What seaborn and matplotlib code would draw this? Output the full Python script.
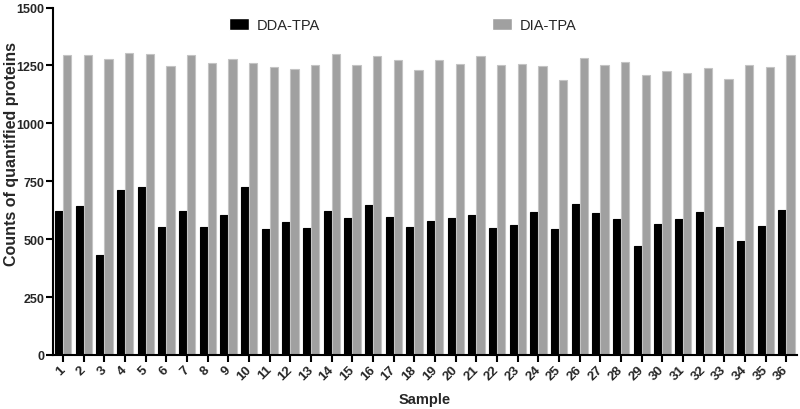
import numpy as np
import pandas as pd
import matplotlib
matplotlib.use("Agg")
import matplotlib.pyplot as plt
import seaborn as sns

samples = [str(i) for i in range(1, 37)]
dda_tpa = [620, 645, 432, 711, 725, 552, 623, 552, 605, 725, 543, 572, 547, 623, 590, 647, 596, 552,
           578, 592, 603, 547, 562, 616, 543, 653, 612, 589, 472, 565, 586, 616, 553, 491, 556, 625]
dia_tpa = [1295, 1294, 1276, 1304, 1301, 1247, 1295, 1262, 1280, 1262, 1244, 1234, 1250, 1299, 1254, 1291, 1273, 1230,
           1273, 1257, 1289, 1251, 1257, 1249, 1188, 1282, 1253, 1264, 1211, 1227, 1219, 1241, 1192, 1250, 1243, 1295]
series_names = ["DDA-TPA", "DIA-TPA"]
y_ticks = [0, 250, 500, 750, 1000, 1250, 1500]

df = pd.DataFrame({
    "Sample": samples * 2,
    "Count": dda_tpa + dia_tpa,
    "Method": [series_names[0]] * len(samples) + [series_names[1]] * len(samples),
})

sns.set_theme(style="white")
plt.rcParams["font.family"] = ["Liberation Sans", "DejaVu Sans"]

fig = plt.figure(figsize=(8, 4.1), dpi=100)
ax = fig.add_axes([0.066, 0.132, 0.93, 0.847])

sns.barplot(data=df, x="Sample", y="Count", hue="Method", order=samples,
            hue_order=series_names, palette=["#000000", "#a0a0a0"],
            width=0.8, errorbar=None, ax=ax, saturation=1)

for bar_container, ec in zip(ax.containers, ["#000000", "#c4c4c4"]):
    for p in bar_container:
        p.set_edgecolor(ec)
        p.set_linewidth(0.8)

ax.set_xlim(-0.5, 35.5)
ax.set_ylim(0, 1500)
ax.set_yticks(y_ticks)
ax.set_yticklabels([str(t) for t in y_ticks], fontsize=9, fontweight="bold")
ax.set_xticks(range(len(samples)))
ax.set_xticklabels(samples, rotation=45, ha="right", va="center", rotation_mode="anchor",
                   fontsize=9.5, fontweight="bold")
ax.set_xlabel("Sample", fontsize=10.5, fontweight="bold")
ax.set_ylabel("Counts of quantified proteins", fontsize=11.5, fontweight="bold")
ax.xaxis.set_label_coords(0.5, -0.108)
ax.yaxis.set_label_coords(-0.046, 0.58)

sns.despine(ax=ax)
for s in ["left", "bottom"]:
    ax.spines[s].set_color("black")
    ax.spines[s].set_linewidth(1.5)
ax.tick_params(axis="both", which="both", direction="out", length=5, width=1.5,
               color="black", bottom=True, left=True)
ax.tick_params(axis="y", pad=1)
ax.tick_params(axis="x", pad=4)

leg = ax.legend(loc="center", bbox_to_anchor=(0.47, 0.95), ncol=2, frameon=False,
                fontsize=10.5, handlelength=1.4, handleheight=0.9, columnspacing=11.8,
                handletextpad=0.5)

fig.savefig("out.png", dpi=100)
